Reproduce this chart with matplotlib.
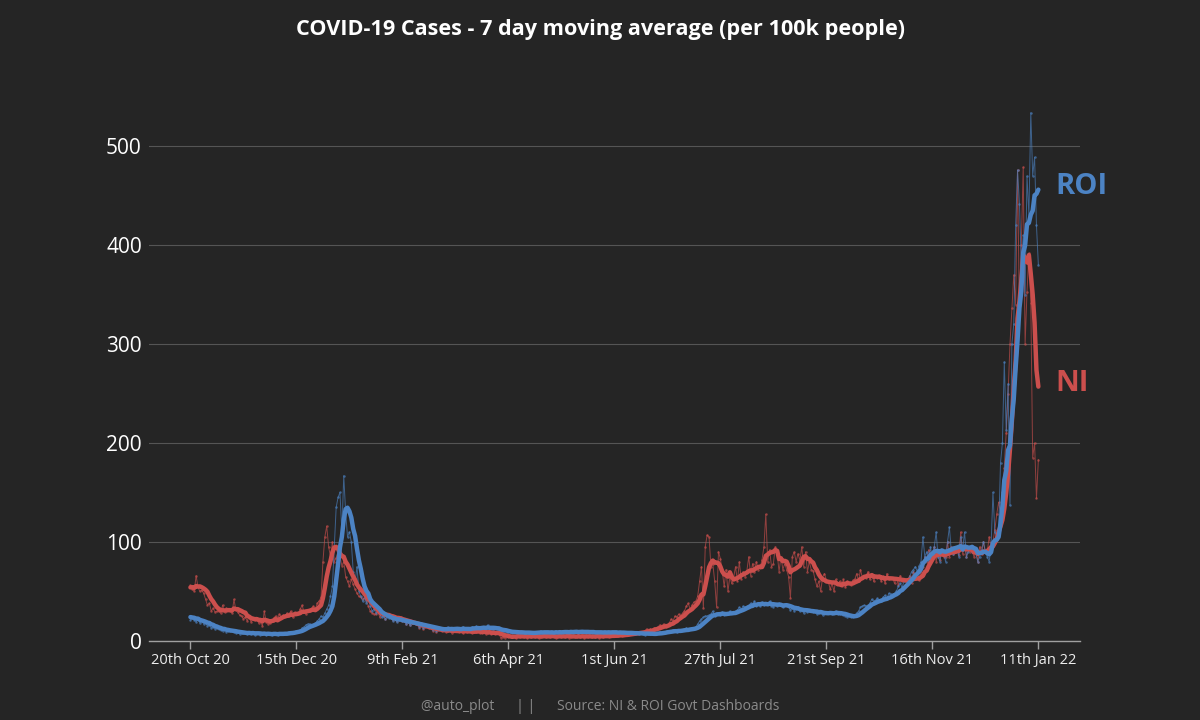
"""
COVID-19 cases per 100k, NI vs ROI: daily counts (thin) and the
7-day moving average (thick), on a dark background.
"""
import matplotlib
matplotlib.use("Agg")
import matplotlib.pyplot as plt
import pandas as pd

BG = "#252525"
NI_COL = "#cc4f4d"
ROI_COL = "#4c83c4"

# daily cases per 100k, one row per week, first day 14 Oct 2020
START = "2020-10-14"
SHOW_FROM = "2020-10-20"

ni_daily = [
    50, 56, 52, 58, 49, 57, 56,
    52, 50, 66, 54, 50, 51, 48,
    42, 36, 38, 30, 33, 29, 30,
    30, 28, 36, 29, 33, 31, 30,
    28, 42, 31, 29, 26, 25, 22,
    24, 20, 25, 19, 22, 21, 23,
    18, 20, 15, 30, 19, 17, 18,
    21, 23, 25, 22, 27, 24, 26,
    25, 28, 26, 30, 24, 29, 27,
    28, 32, 36, 29, 27, 31, 30,
    33, 35, 32, 38, 40, 44, 80,
    105, 116, 95, 85, 100, 80, 84,
    90, 85, 76, 80, 65, 60, 55,
    62, 57, 52, 48, 45, 44, 42,
    43, 41, 35, 30, 28, 27, 27,
    30, 24, 28, 26, 22, 27, 25,
    24, 21, 23, 20, 22, 24, 20,
    20, 17, 19, 16, 18, 19, 17,
    16, 13, 15, 12, 14, 15, 13,
    13, 10, 12, 9, 11, 12, 10,
    11, 9, 10, 12, 8, 10, 10,
    10, 9, 11, 8, 10, 9, 10,
    9, 8, 10, 9, 11, 8, 8,
    9, 7, 8, 10, 7, 8, 7,
    8, 7, 3, 4, 3, 5, 4,
    5, 4, 5, 3, 6, 4, 5,
    4, 5, 3, 5, 4, 6, 4,
    5, 3, 4, 5, 6, 4, 5,
    4, 5, 4, 3, 5, 6, 4,
    5, 4, 6, 3, 4, 5, 4,
    4, 6, 4, 5, 3, 5, 4,
    5, 4, 5, 4, 6, 3, 5,
    4, 6, 5, 4, 6, 5, 5,
    5, 6, 7, 5, 6, 7, 6,
    7, 8, 9, 7, 8, 9, 8,
    9, 10, 12, 10, 12, 11, 13,
    13, 14, 16, 15, 17, 14, 16,
    18, 22, 20, 25, 24, 27, 25,
    28, 30, 35, 38, 32, 36, 39,
    40, 45, 60, 75, 33, 95, 107,
    105, 75, 78, 60, 34, 90, 83,
    70, 55, 72, 50, 65, 58, 64,
    75, 60, 80, 62, 70, 65, 71,
    85, 66, 78, 70, 80, 72, 74,
    82, 95, 128, 80, 92, 75, 78,
    95, 88, 70, 85, 72, 78, 72,
    65, 43, 85, 90, 80, 88, 81,
    95, 75, 90, 70, 80, 72, 71,
    62, 55, 60, 50, 64, 68, 61,
    60, 52, 58, 50, 62, 57, 60,
    55, 62, 54, 60, 58, 56, 61,
    62, 68, 60, 72, 64, 66, 63,
    70, 62, 68, 60, 66, 64, 65,
    60, 65, 58, 68, 62, 64, 64,
    58, 64, 56, 66, 60, 62, 61,
    60, 66, 58, 70, 62, 64, 61,
    70, 75, 85, 80, 92, 88, 84,
    95, 80, 90, 82, 92, 85, 85,
    100, 85, 95, 88, 90, 92, 87,
    110, 88, 95, 85, 92, 90, 91,
    85, 92, 80, 95, 88, 100, 90,
    90, 105, 95, 100, 112, 128, 140,
    130, 150, 175, 210, 250, 300, 336,
    370, 340, 476, 330, 400, 479, 300,
    353, 392, 342, 185, 200, 144, 183,
]

roi_daily = [
    26, 23, 25, 22, 27, 24, 21,
    23, 21, 19, 22, 18, 20, 17,
    18, 15, 16, 13, 14, 12, 13,
    12, 11, 10, 12, 9, 10, 10,
    10, 9, 8, 9, 7, 8, 8,
    8, 7, 9, 7, 8, 6, 8,
    8, 6, 7, 8, 6, 7, 7,
    6, 8, 7, 6, 8, 7, 7,
    7, 8, 9, 8, 9, 9, 10,
    10, 11, 13, 14, 16, 17, 17,
    15, 16, 18, 20, 22, 25, 24,
    28, 32, 36, 45, 55, 95, 135,
    145, 150, 110, 167, 130, 105, 110,
    100, 70, 60, 75, 50, 45, 40,
    45, 38, 42, 35, 30, 32, 28,
    30, 27, 24, 25, 22, 24, 23,
    23, 20, 22, 19, 21, 22, 20,
    20, 17, 19, 16, 18, 19, 17,
    17, 14, 16, 13, 15, 16, 14,
    14, 11, 13, 10, 12, 13, 11,
    12, 11, 14, 10, 13, 12, 12,
    13, 10, 12, 14, 11, 12, 12,
    12, 14, 13, 15, 12, 11, 14,
    14, 12, 16, 13, 12, 11, 13,
    12, 11, 10, 9, 10, 9, 9,
    9, 8, 9, 8, 9, 8, 9,
    8, 7, 9, 8, 8, 7, 9,
    9, 8, 10, 8, 9, 7, 9,
    8, 9, 8, 10, 8, 9, 8,
    9, 10, 8, 9, 10, 8, 9,
    10, 8, 9, 10, 9, 8, 9,
    9, 8, 9, 8, 9, 8, 9,
    8, 9, 8, 9, 8, 9, 9,
    8, 7, 9, 8, 8, 8, 8,
    8, 7, 8, 7, 8, 7, 8,
    7, 6, 8, 7, 7, 7, 7,
    7, 8, 9, 8, 9, 9, 10,
    9, 10, 11, 10, 9, 11, 10,
    11, 12, 13, 11, 12, 13, 12,
    14, 17, 20, 22, 24, 25, 25,
    26, 27, 30, 25, 28, 27, 26,
    29, 26, 28, 27, 30, 28, 28,
    30, 31, 34, 32, 35, 34, 35,
    36, 38, 37, 40, 35, 38, 35,
    39, 36, 38, 37, 40, 35, 34,
    37, 35, 38, 36, 34, 37, 35,
    34, 31, 33, 30, 32, 34, 30,
    31, 28, 32, 29, 30, 31, 29,
    29, 27, 28, 30, 26, 28, 28,
    28, 29, 27, 28, 30, 27, 27,
    27, 26, 25, 24, 25, 24, 24,
    26, 28, 30, 34, 35, 36, 35,
    36, 38, 42, 40, 41, 43, 40,
    40, 44, 46, 43, 48, 47, 47,
    48, 50, 55, 58, 54, 60, 60,
    62, 65, 70, 72, 75, 70, 76,
    80, 105, 85, 90, 78, 95, 83,
    95, 110, 85, 80, 92, 88, 80,
    100, 115, 90, 88, 95, 92, 85,
    105, 92, 110, 85, 90, 93, 90,
    95, 88, 80, 85, 92, 100, 90,
    85, 80, 95, 150, 110, 105, 110,
    180, 200, 282, 213, 260, 137, 300,
    320, 420, 476, 442, 380, 410, 350,
    470, 430, 534, 470, 489, 420, 380,
]

series = ["NI", "ROI"]
colors = {"NI": NI_COL, "ROI": ROI_COL}

y_ticks = [0, 100, 200, 300, 400, 500]
x_ticks = pd.date_range(SHOW_FROM, periods=9, freq="56D")

dates = pd.date_range(START, periods=len(ni_daily), freq="D")
df = pd.DataFrame({"NI": ni_daily, "ROI": roi_daily}, index=dates)
ma = df.rolling(7).mean().loc[SHOW_FROM:]
raw = df.loc[SHOW_FROM:]


def nice_date(d):
    day = d.day
    if day in (11, 12, 13):
        suf = "th"
    else:
        suf = {1: "st", 2: "nd", 3: "rd"}.get(day % 10, "th")
    return f"{day}{suf} {d.strftime('%b %y')}"


plt.rcParams["font.family"] = ["Open Sans", "DejaVu Sans"]

fig = plt.figure(figsize=(12, 7.2), dpi=100, facecolor=BG)
ax = fig.add_axes([0.124, 0.11, 0.776, 0.783], facecolor=BG)

for s in series:
    ax.plot(raw.index, raw[s], color=colors[s], lw=0.7, alpha=0.65,
            marker="o", ms=1.8, mew=0, zorder=2)
for s in series:
    ax.plot(ma.index, ma[s], color=colors[s], lw=3.2,
            solid_capstyle="round", zorder=3)
    ax.text(ma.index[-1] + pd.Timedelta(days=9), ma[s].iloc[-1] + 3, s,
            color=colors[s], fontsize=21, fontweight="bold", va="center")

ax.set_xlim(pd.Timestamp("2020-09-28"), pd.Timestamp("2022-02-02"))
ax.set_ylim(0, 570)

ax.set_yticks(y_ticks)
ax.set_xticks(x_ticks)
ax.set_xticklabels([nice_date(d) for d in x_ticks])
ax.tick_params(axis="y", length=0, labelsize=15, labelcolor="white", pad=5)
ax.tick_params(axis="x", length=6, width=1, color="#a0a0a0",
               labelsize=10.5, labelcolor="#eeeeee", pad=3)

ax.grid(axis="y", color="#555555", lw=0.8)
ax.grid(axis="x", visible=False)
ax.set_axisbelow(True)
for side in ("left", "right", "top"):
    ax.spines[side].set_visible(False)
ax.spines["bottom"].set_color("#a0a0a0")
ax.spines["bottom"].set_linewidth(1)

fig.text(0.5, 1 - 30 / 720, "COVID-19 Cases - 7 day moving average (per 100k people)",
         ha="center", va="center", color="white", fontsize=15.6, fontweight="bold")
fig.text(0.5, 1 - 706 / 720, "@auto_plot      | |      Source: NI & ROI Govt Dashboards",
         ha="center", va="center", color="#8a8a8a", fontsize=10)

fig.savefig("out.png", dpi=100, facecolor=BG)
